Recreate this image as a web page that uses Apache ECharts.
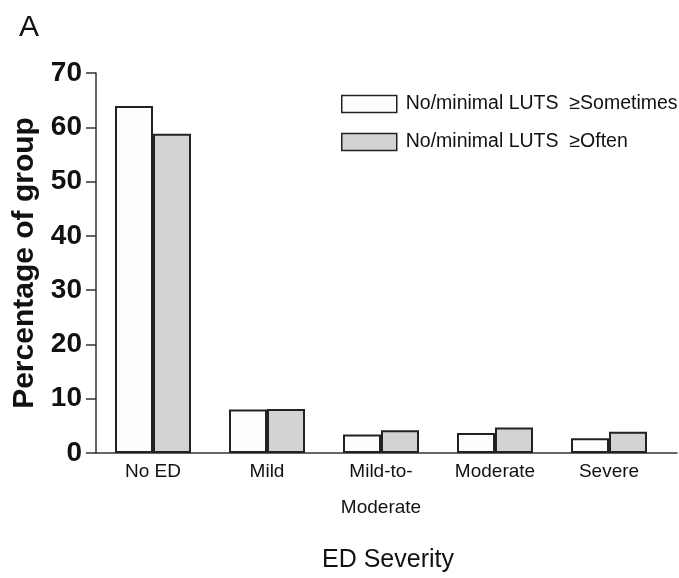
<!DOCTYPE html>
<html>
<head>
<meta charset="utf-8">
<script src="https://cdn.jsdelivr.net/npm/echarts@6/dist/echarts.min.js"></script>
<style>html,body{margin:0;padding:0;background:#fff}#c{width:679px;height:578px}</style>
</head>
<body>
<div id="c"></div>
<script>
const categories = ['No ED', 'Mild', 'Mild-to-\nModerate', 'Moderate', 'Severe'];
const seriesNames = ['No/minimal LUTS  \u2265Sometimes', 'No/minimal LUTS  \u2265Often'];
const sometimesValues = [63.9, 8.0, 3.4, 3.7, 2.7];
const oftenValues = [58.8, 8.1, 4.2, 4.7, 3.9];
const yTicks = [0, 10, 20, 30, 40, 50, 60, 70];

const SANS = "'Liberation Sans', Arial, Helvetica, sans-serif";

const chart = echarts.init(document.getElementById('c'));
chart.setOption({
  animation: false,
  backgroundColor: '#fff',
  title: [
    { text: 'A', left: 19, top: 13, padding: 0, textStyle: { fontFamily: SANS, fontSize: 30, fontWeight: 'normal', color: '#111' } },
    { text: 'ED Severity', left: 322, top: 548, padding: 0, textStyle: { fontFamily: SANS, fontSize: 25, fontWeight: 'normal', color: '#111' } }
  ],
  legend: {
    orient: 'vertical',
    left: 341, top: 94, padding: 0,
    itemWidth: 55, itemHeight: 17, itemGap: 18,
    icon: 'rect',
    data: seriesNames,
    textStyle: { fontFamily: SANS, fontSize: 19.5, color: '#111', lineHeight: 17, padding: [0, 0, 0, 4] },
    itemStyle: { borderColor: '#222', borderWidth: 1.5 }
  },
  grid: [
    { left: 96, right: 13, top: 73, bottom: 125 },
    { left: 96, right: 2, top: 73, bottom: 125 }
  ],
  xAxis: [
    {
      type: 'category', gridIndex: 0, data: categories,
      axisLine: { show: false },
      axisTick: { show: false },
      axisLabel: { fontFamily: SANS, fontSize: 19, color: '#111', margin: 1, lineHeight: 36, interval: 0 }
    },
    {
      type: 'value', gridIndex: 1, min: 0, max: 1,
      axisLine: { show: true, lineStyle: { color: '#333', width: 1.5 } },
      axisTick: { show: false }, axisLabel: { show: false }, splitLine: { show: false }
    }
  ],
  yAxis: [
    {
      type: 'value', gridIndex: 0, min: yTicks[0], max: yTicks[yTicks.length - 1], interval: 10,
      name: 'Percentage of group', nameLocation: 'middle', nameGap: 53, nameRotate: 90,
      nameTextStyle: { fontFamily: SANS, fontSize: 30, fontWeight: 'bold', color: '#111' },
      axisLine: { show: true, lineStyle: { color: '#333', width: 1.5 } },
      axisTick: { show: true, length: 10, lineStyle: { color: '#333', width: 1.5 } },
      axisLabel: { fontFamily: SANS, fontSize: 28, fontWeight: 'bold', color: '#111', margin: 14 },
      splitLine: { show: false }
    },
    { type: 'value', gridIndex: 1, show: false, min: 0, max: 1 }
  ],
  series: [
    {
      name: seriesNames[0], type: 'bar', xAxisIndex: 0, yAxisIndex: 0,
      data: sometimesValues, barWidth: 38, barGap: '0%',
      itemStyle: { color: '#fdfdfb', borderColor: '#222', borderWidth: 2 }
    },
    {
      name: seriesNames[1], type: 'bar', xAxisIndex: 0, yAxisIndex: 0,
      data: oftenValues, barWidth: 38, barGap: '0%',
      itemStyle: { color: '#d3d3d3', borderColor: '#222', borderWidth: 2 }
    }
  ]
});
</script>
</body>
</html>
